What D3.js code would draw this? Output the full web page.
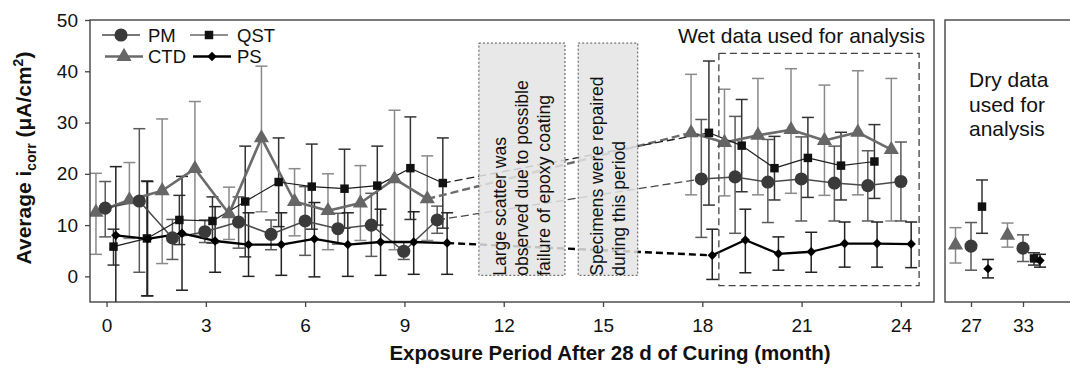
<!DOCTYPE html>
<html>
<head>
<meta charset="utf-8">
<script src="https://cdn.jsdelivr.net/npm/d3@7"></script>
<style>
  body { margin: 0; background: #fff; }
  svg { font-family: "Liberation Sans", Arial, Helvetica, sans-serif; }
</style>
</head>
<body>
<svg id="chart"></svg>
<script>
// wet exposure data (month, mean, upper and lower end of error bar)
const ctdMonths = [-0.32, 0.69, 1.68, 2.67, 3.70, 4.68, 5.68, 6.69, 7.67, 8.70, 9.69, 17.66, 18.67, 19.68, 20.68, 21.69, 22.70, 23.71];
const ctdMean   = [12.5, 14.9, 16.7, 21.0, 12.2, 27.0, 14.6, 12.8, 14.3, 19.0, 15.1, 28.0, 26.1, 27.5, 28.6, 26.5, 28.1, 24.7];
const ctdHi     = [20.1, 22.2, 30.7, 34.1, 17.4, 41.0, 21.0, 20.0, 21.6, 32.4, 23.5, 39.4, 36.5, 38.6, 40.5, 37.3, 40.1, 38.6];
const ctdLo     = [4.3, 7.4, 2.5, 8.0, 7.2, 12.6, 7.9, 5.2, 7.0, 5.2, 7.0, 15.9, 15.7, 15.9, 16.2, 15.8, 15.9, 10.8];

const pmMonths = [-0.04, 0.99, 1.99, 2.97, 3.99, 4.97, 6.00, 6.99, 8.00, 8.98, 9.99, 17.97, 18.99, 19.98, 20.99, 21.99, 23.00, 24.00];
const pmMean   = [13.3, 14.7, 7.5, 8.7, 10.6, 8.2, 10.8, 9.3, 10.0, 4.9, 11.0, 19.0, 19.4, 18.4, 19.0, 18.2, 17.7, 18.5];
const pmHi     = [18.5, 28.8, 11.1, 11.0, 15.5, 11.0, 17.5, 12.3, 16.2, 6.7, 13.7, 30.6, 31.2, 26.7, 27.2, 25.4, 24.5, 26.2];
const pmLo     = [7.7, 0.8, 3.3, 6.6, 5.5, 5.2, 4.1, 6.3, 3.9, 3.3, 8.4, 7.6, 8.4, 10.5, 10.8, 10.8, 10.8, 10.8];

const qstMonths = [0.21, 1.22, 2.20, 3.20, 4.19, 5.20, 6.20, 7.19, 8.18, 9.18, 10.16, 18.20, 19.19, 20.18, 21.19, 22.19, 23.20];
const qstMean   = [5.8, 7.4, 11.0, 10.8, 14.6, 18.4, 17.5, 17.1, 17.7, 21.1, 18.2, 28.0, 25.5, 21.1, 23.1, 21.6, 22.4];
const qstHi     = [9.2, 18.6, 15.8, 15.5, 25.4, 27.0, 25.8, 24.8, 25.4, 31.1, 27.0, 42.0, 34.5, 27.3, 31.0, 28.1, 29.6];
const qstLo     = [2.2, -3.8, 6.2, 6.5, 3.8, 9.7, 9.2, 9.4, 10.0, 11.1, 9.4, 13.9, 16.5, 14.9, 15.4, 14.9, 15.2];

const psMonths = [0.28, 1.24, 2.28, 3.28, 4.29, 5.28, 6.28, 7.29, 8.28, 9.28, 10.29, 18.30, 19.30, 20.30, 21.29, 22.30, 23.28, 24.31];
const psMean   = [8.0, 7.3, 8.4, 6.9, 6.2, 6.2, 7.3, 6.2, 6.7, 6.7, 6.5, 4.1, 7.1, 4.4, 4.8, 6.4, 6.4, 6.3];
const psHi     = [21.4, 18.5, 19.5, 13.6, 12.4, 12.4, 14.4, 12.4, 13.1, 12.6, 12.4, 9.2, 13.1, 7.7, 8.6, 10.6, 10.6, 10.6];
const psLo     = [-6.0, -3.8, -2.7, 0.8, 0.0, 0.2, -0.1, 0.0, 0.2, 0.4, 0.4, -0.6, 0.7, 1.2, 0.8, 1.8, 1.8, 1.7];

// dry exposure data
const dryMonths = ["27", "33"];
const ctdDry = [6.1, 8.0], ctdDryHi = [9.5, 10.4], ctdDryLo = [2.6, 5.7];
const pmDry  = [5.9, 5.5], pmDryHi  = [10.5, 8.1], pmDryLo  = [1.2, 2.9];
const qstDry = [13.6, 3.5], qstDryHi = [18.8, 4.6], qstDryLo = [8.4, 2.2];
const psDry  = [1.5, 3.1], psDryHi  = [3.3, 4.3], psDryLo  = [-0.3, 1.8];

const xTicks = [0, 3, 6, 9, 12, 15, 18, 21, 24];
const yTicks = [0, 10, 20, 30, 40, 50];

const width = 1070, height = 372;
const pL = 90, pR = 934, pT = 20, pB = 302;

const svg = d3.select("#chart")
  .attr("width", width)
  .attr("height", height);

const x = d3.scaleLinear().domain([-0.5, 25]).range([pL, pR]);
const y = d3.scaleLinear().domain([-5, 50]).range([pB, pT]);
const xDry = d3.scalePoint().domain(dryMonths).range([971, 1023]);

function zip(m, v, hi, lo) {
  return m.map((d, i) => ({ m: d, v: v[i], hi: hi[i], lo: lo[i] }));
}

const series = [
  { name: "CTD", wet: zip(ctdMonths, ctdMean, ctdHi, ctdLo), dry: zip(dryMonths, ctdDry, ctdDryHi, ctdDryLo),
    line: "#6b6b6b", lw: 2.6, err: "#8a8a8a", fill: "#666", symbol: d3.symbolTriangle, size: 100, rot: 0, off: -15.5, dash: "8,4" },
  { name: "PM", wet: zip(pmMonths, pmMean, pmHi, pmLo), dry: zip(dryMonths, pmDry, pmDryHi, pmDryLo),
    line: "#4a4a4a", lw: 1.5, err: "#5a5a5a", fill: "#3a3a3a", symbol: d3.symbolCircle, size: 135, rot: 0, off: 0, dash: "8,4" },
  { name: "QST", wet: zip(qstMonths, qstMean, qstHi, qstLo), dry: zip(dryMonths, qstDry, qstDryHi, qstDryLo),
    line: "#1e1e1e", lw: 1.2, err: "#333", fill: "#111", symbol: d3.symbolSquare, size: 72, rot: 0, off: 11, dash: "8,4" },
  { name: "PS", wet: zip(psMonths, psMean, psHi, psLo), dry: zip(dryMonths, psDry, psDryHi, psDryLo),
    line: "#000", lw: 2.3, err: "#222", fill: "#000", symbol: d3.symbolSquare, size: 44, rot: 45, off: 17, dash: "7,4" }
];

svg.append("defs").append("clipPath").attr("id", "plotclip")
  .append("rect").attr("x", pL).attr("y", pT).attr("width", pR - pL).attr("height", pB - pT);

const plot = svg.append("g").attr("clip-path", "url(#plotclip)");

// error bars
function errorBars(g, data, px, color) {
  const bars = g.selectAll(null).data(data).join("g")
    .attr("stroke", color).attr("stroke-width", 1.5).attr("fill", "none");
  bars.append("line")
    .attr("x1", px).attr("x2", px)
    .attr("y1", d => y(d.hi)).attr("y2", d => y(d.lo));
  bars.append("line")
    .attr("x1", d => px(d) - 6).attr("x2", d => px(d) + 6)
    .attr("y1", d => y(d.hi)).attr("y2", d => y(d.hi));
  bars.append("line")
    .attr("x1", d => px(d) - 6).attr("x2", d => px(d) + 6)
    .attr("y1", d => y(d.lo)).attr("y2", d => y(d.lo));
}

series.forEach(s => errorBars(plot, s.wet, d => x(d.m), s.err));

// lines: solid inside a block of monthly readings, dashed across the gap
const line = d3.line().x(d => x(d.m)).y(d => y(d.v));

series.forEach(s => {
  const groups = [[s.wet[0]]];
  for (let i = 1; i < s.wet.length; i++) {
    const prev = s.wet[i - 1], cur = s.wet[i];
    if (cur.m - prev.m > 3) {
      plot.append("path")
        .datum([prev, cur])
        .attr("d", line)
        .attr("fill", "none")
        .attr("stroke", s.line)
        .attr("stroke-width", s.name === "PS" || s.name === "CTD" ? 2.4 : 1.3)
        .attr("stroke-dasharray", s.dash);
      groups.push([cur]);
    } else {
      groups[groups.length - 1].push(cur);
    }
  }
  groups.forEach(gr => {
    plot.append("path")
      .datum(gr)
      .attr("d", line)
      .attr("fill", "none")
      .attr("stroke", s.line)
      .attr("stroke-width", s.lw)
      .attr("stroke-linejoin", "round");
  });
});

// markers
series.forEach(s => {
  plot.selectAll(null)
    .data(s.wet)
    .join("path")
    .attr("d", d3.symbol().type(s.symbol).size(s.size))
    .attr("transform", d => `translate(${x(d.m)},${y(d.v)}) rotate(${s.rot})`)
    .attr("fill", s.fill);
});

// annotation boxes over the gap
const notes = [
  { x0: 11.25, x1: 13.85, lines: ["Large scatter was", "observed due to possible", "failure of epoxy coating"] },
  { x0: 14.25, x1: 16.05, lines: ["Specimens were repaired", "during this period"] }
];

notes.forEach(n => {
  svg.append("rect")
    .attr("x", x(n.x0)).attr("y", y(45.5))
    .attr("width", x(n.x1) - x(n.x0)).attr("height", y(0.2) - y(45.5))
    .attr("fill", "#e4e4e4").attr("fill-opacity", 0.85)
    .attr("stroke", "#555").attr("stroke-width", 1).attr("stroke-dasharray", "2,2");
  const bx = (x(n.x0) + x(n.x1)) / 2;
  n.lines.forEach((t, i) => {
    const tx = bx + (i - (n.lines.length - 1) / 2) * 22 + 6;
    svg.append("text")
      .attr("transform", `translate(${tx},${y(0.1)}) rotate(-90)`)
      .attr("font-size", 17.6)
      .attr("fill", "#111")
      .text(t);
  });
});

// wet data box
svg.append("rect")
  .attr("x", x(18.5)).attr("y", y(43.5))
  .attr("width", x(24.55) - x(18.5)).attr("height", y(-1.8) - y(43.5))
  .attr("fill", "none")
  .attr("stroke", "#444").attr("stroke-width", 1.3).attr("stroke-dasharray", "7,4");

svg.append("text")
  .attr("x", 925).attr("y", 43)
  .attr("text-anchor", "end")
  .attr("font-size", 21)
  .attr("fill", "#111")
  .text("Wet data used for analysis");

// dry panel
const dryPanel = svg.append("g");
series.forEach(s => errorBars(dryPanel, s.dry, d => xDry(d.m) + s.off, s.err));
series.forEach(s => {
  dryPanel.selectAll(null)
    .data(s.dry)
    .join("path")
    .attr("d", d3.symbol().type(s.symbol).size(s.size))
    .attr("transform", d => `translate(${xDry(d.m) + s.off},${y(d.v)}) rotate(${s.rot})`)
    .attr("fill", s.fill);
});

["Dry data", "used for", "analysis"].forEach((t, i) => {
  svg.append("text")
    .attr("x", 969).attr("y", 87 + i * 24.5)
    .attr("font-size", 21)
    .attr("fill", "#111")
    .text(t);
});

// frames
svg.append("rect")
  .attr("x", pL).attr("y", pT)
  .attr("width", pR - pL).attr("height", pB - pT)
  .attr("fill", "none").attr("stroke", "#444").attr("stroke-width", 1.4);

svg.append("rect")
  .attr("x", 945).attr("y", pT)
  .attr("width", 200).attr("height", pB - pT)
  .attr("fill", "none").attr("stroke", "#444").attr("stroke-width", 1.4);

// axes
const yAxis = svg.append("g")
  .attr("transform", `translate(${pL},0)`)
  .call(d3.axisLeft(y).tickValues(yTicks).tickSize(5).tickPadding(7));

const xAxis = svg.append("g")
  .attr("transform", `translate(0,${pB})`)
  .call(d3.axisBottom(x).tickValues(xTicks).tickSize(5).tickPadding(12));

const xDryAxis = svg.append("g")
  .attr("transform", `translate(0,${pB})`)
  .call(d3.axisBottom(xDry).tickSize(5).tickPadding(12));

[yAxis, xAxis, xDryAxis].forEach(a => {
  a.select(".domain").remove();
  a.selectAll("line").attr("stroke", "#444").attr("stroke-width", 1.3);
  a.selectAll("text")
    .attr("font-size", 19)
    .attr("fill", "#111")
    .attr("font-family", '"Liberation Sans", Arial, sans-serif');
});

// axis titles
svg.append("text")
  .attr("x", 610).attr("y", 360)
  .attr("text-anchor", "middle")
  .attr("font-size", 20.5)
  .attr("font-weight", "bold")
  .attr("fill", "#111")
  .text("Exposure Period After 28 d of Curing (month)");

const yt = svg.append("text")
  .attr("transform", `translate(31,158) rotate(-90)`)
  .attr("text-anchor", "middle")
  .attr("font-size", 21)
  .attr("font-weight", "bold")
  .attr("fill", "#111");
yt.append("tspan").text("Average i");
yt.append("tspan").attr("font-size", 14).attr("dy", 4.5).text("corr");
yt.append("tspan").attr("dy", -4.5).text(" (μA/cm");
yt.append("tspan").attr("font-size", 14).attr("dy", -8).text("2");
yt.append("tspan").attr("dy", 8).text(")");

// legend
const legendPos = [
  { name: "PM", lx: 102, ty: 35 },
  { name: "CTD", lx: 105, ty: 56.5 },
  { name: "QST", lx: 190, ty: 35 },
  { name: "PS", lx: 193, ty: 56.5 }
];

legendPos.forEach(p => {
  const s = series.find(d => d.name === p.name);
  const g = svg.append("g");
  g.append("line")
    .attr("x1", p.lx).attr("x2", p.lx + 38)
    .attr("y1", p.ty).attr("y2", p.ty)
    .attr("stroke", s.line).attr("stroke-width", s.lw);
  g.append("path")
    .attr("d", d3.symbol().type(s.symbol).size(s.size))
    .attr("transform", `translate(${p.lx + 19},${p.ty}) rotate(${s.rot})`)
    .attr("fill", s.fill);
  g.append("text")
    .attr("x", p.lx < 150 ? 148 : 237)
    .attr("y", p.ty + 6.5)
    .attr("font-size", 18.5)
    .attr("fill", "#111")
    .text(p.name);
});
</script>
</body>
</html>
